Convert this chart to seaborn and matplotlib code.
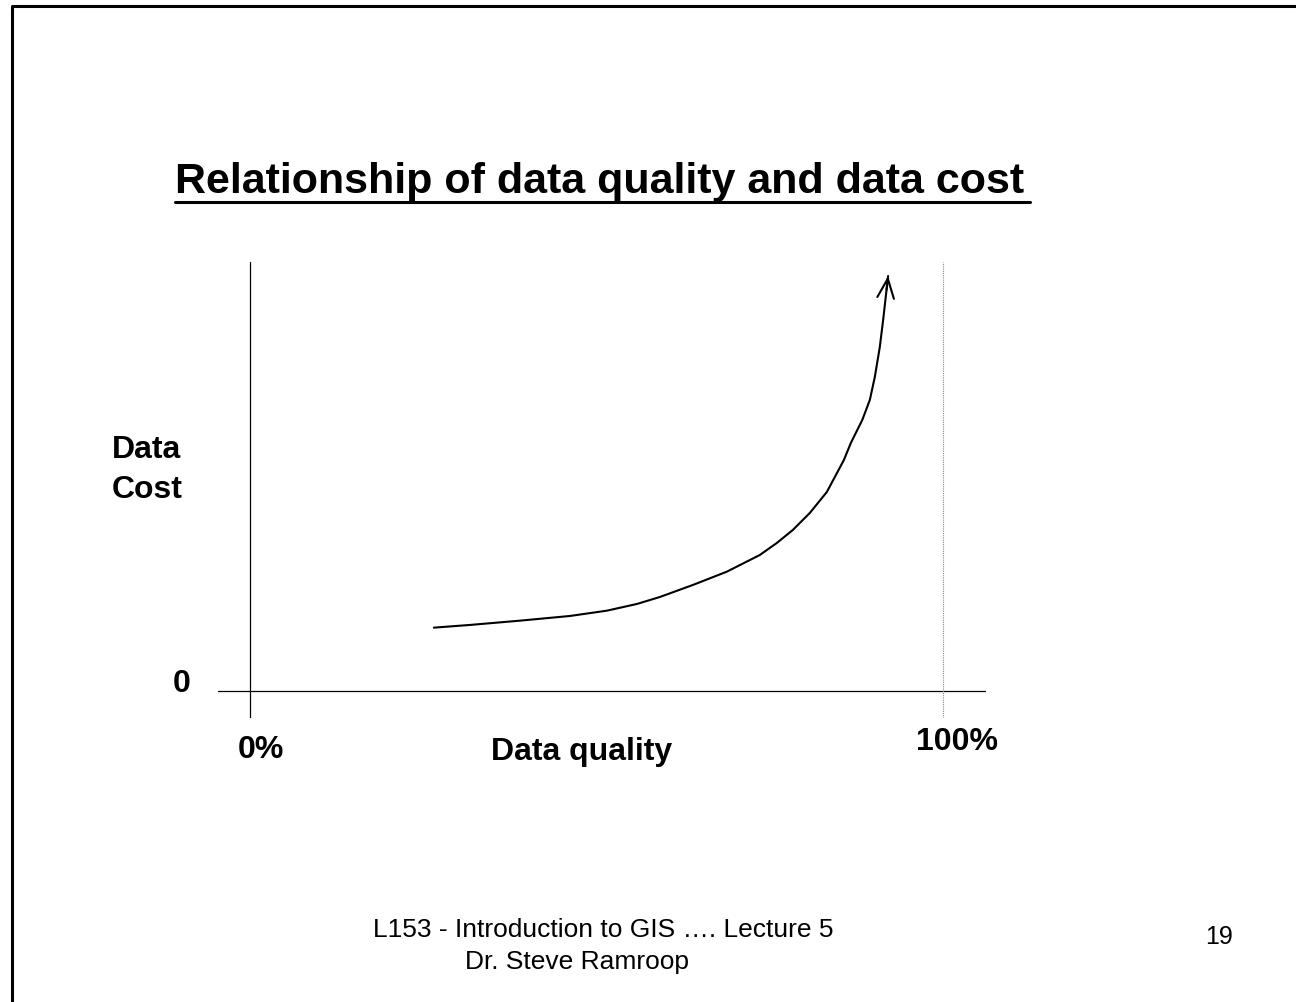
import numpy as np
import pandas as pd
import seaborn as sns
import matplotlib.pyplot as plt
from matplotlib.lines import Line2D

# Données (qualité en %, coût en unités arbitraires)
quality = [26.54, 31.74, 38.95, 46.16, 51.50, 55.83, 59.15, 63.91, 68.81, 73.57, 76.02, 78.33,
           80.78, 83.24, 85.70, 86.70, 88.35, 89.44, 90.16, 90.88, 91.36, 91.85, 92.08]
cost = [14.76, 15.39, 16.39, 17.48, 18.72, 20.28, 21.91, 24.71, 27.81, 31.70, 34.50, 37.53,
        41.49, 46.39, 53.85, 57.81, 63.17, 67.84, 73.20, 80.19, 86.49, 93.48, 96.74]

title = "Relationship of data quality and data cost"
footer_1 = "L153 - Introduction to GIS \u2026. Lecture 5"
footer_2 = "Dr. Steve Ramroop"
page = "19"

df = pd.DataFrame({"quality": quality, "cost": cost})

sns.set_style("white")
plt.rcParams["font.family"] = ["Liberation Sans", "DejaVu Sans"]
plt.rcParams["text.color"] = "black"

W, H = 1296, 1002
fig = plt.figure(figsize=(W / 100, H / 100), dpi=100)
fig.patch.set_facecolor("white")

# zone du graphique (en pixels : x 218..986, y 262..718)
ax = fig.add_axes([218 / W, 1 - 718 / H, 768 / W, 456 / H])
ax.set_xlim(-4.6, 106.2)
ax.set_ylim(-6.3, 100)
ax.axis("off")

# axes dessinés à la main
ax.axhline(0, color="black", lw=0.9)
ax.axvline(0, color="black", lw=0.9)
ax.axvline(100, color="#888888", lw=0.8, ls=(0, (1, 1)))

# courbe + flèche
sns.lineplot(data=df, x="quality", y="cost", sort=False, color="black", lw=1.5, ax=ax)
ax.annotate("", xy=(quality[-1], cost[-1]), xytext=(quality[-2], cost[-2]),
            arrowprops=dict(arrowstyle="->,head_length=1.4,head_width=0.6",
                            mutation_scale=10, color="black", lw=1.5,
                            shrinkA=0, shrinkB=0))

# étiquettes
lab = dict(fontsize=23, fontweight="bold", ha="center", va="center", clip_on=False)
ax.text(-9.8, 1.6, "0", **lab)
ax.text(1.6, -13.8, "0%", **lab)
ax.text(47.8, -14.2, "Data quality", **lab)
ax.text(102.0, -11.9, "100%", **lab)
fig.text(112 / W, 1 - 470 / H, "Data\nCost", fontsize=23, fontweight="bold",
         ha="left", va="center", linespacing=1.4)

# titre souligné
fig.text(175 / W, 1 - 193 / H, title, fontsize=31, fontweight="bold",
         ha="left", va="baseline")
fig.add_artist(Line2D([175 / W, 1030 / W], [1 - 201.5 / H, 1 - 201.5 / H],
                      transform=fig.transFigure, color="black", lw=2.2))

# pied de page
fig.text(603 / W, 1 - 930 / H, footer_1, fontsize=19, ha="center", va="center")
fig.text(577 / W, 1 - 962 / H, footer_2, fontsize=19, ha="center", va="center")
fig.text(1219 / W, 1 - 937 / H, page, fontsize=18, ha="center", va="center")

# cadre de la diapositive
fig.add_artist(Line2D([12 / W, 12 / W, 1.0], [0.0, 1 - 6 / H, 1 - 6 / H],
                      transform=fig.transFigure, color="black", lw=2.2))

plt.savefig("out.png", dpi=100)
